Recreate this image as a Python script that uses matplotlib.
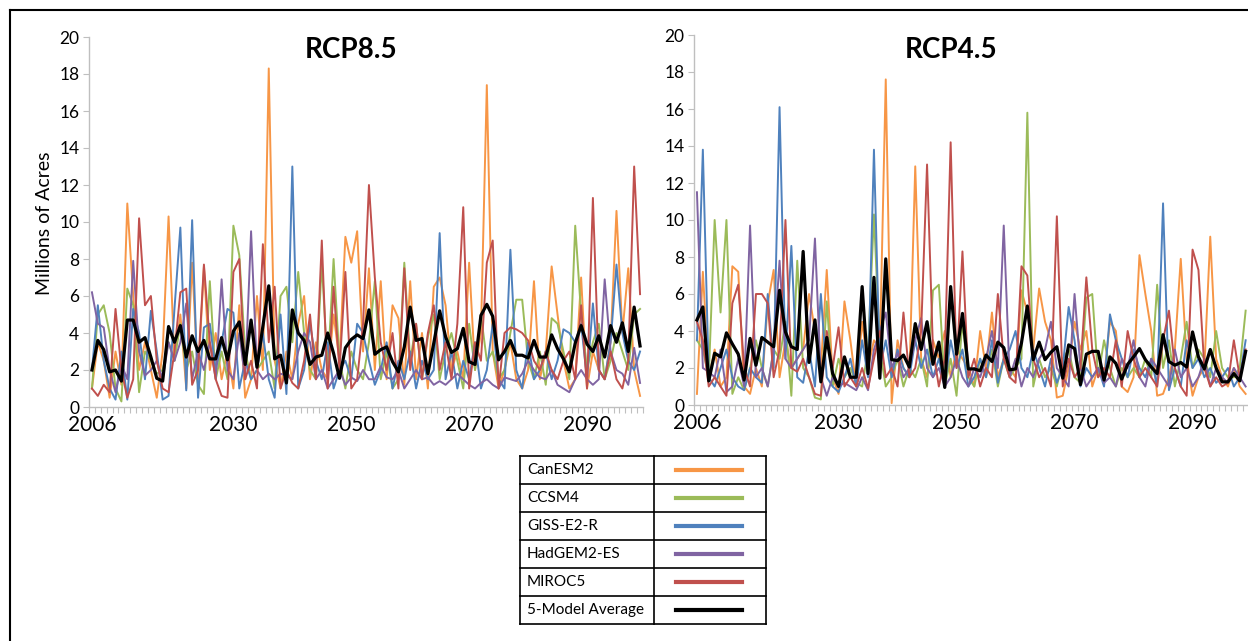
import matplotlib
matplotlib.use("Agg")
import matplotlib.pyplot as plt
from matplotlib.lines import Line2D
import numpy as np

plt.rcParams['font.family'] = ['Lato', 'DejaVu Sans']

years = list(range(2006, 2100))
models = ["CanESM2", "CCSM4", "GISS-E2-R", "HadGEM2-ES", "MIROC5"]
colors = ["#F79646", "#9BBB59", "#4F81BD", "#8064A2", "#C0504D"]
xtick_labels = [2006, 2030, 2050, 2070, 2090]
ytick_values = [0, 2, 4, 6, 8, 10, 12, 14, 16, 18, 20]

# ---------------- RCP8.5 ----------------
rcp85_canesm2 = [1.0, 3.5, 2.5, 0.5, 3.0, 1.2, 11.0, 6.0, 2.0, 3.5, 2.0, 0.5, 3.0, 10.3, 2.5, 5.0, 1.0, 7.8, 1.5, 7.6,
                 2.0, 4.0, 1.5, 3.0, 1.0, 5.5, 0.5, 1.5, 6.0, 2.0, 18.3, 2.5, 1.0, 3.0, 1.5, 4.5, 6.0, 1.5, 3.5, 2.0,
                 1.5, 5.0, 2.5, 9.2, 7.8, 9.5, 3.0, 7.5, 2.0, 6.8, 1.5, 5.5, 4.8, 1.2, 6.8, 1.5, 4.0, 1.0, 6.5, 7.0,
                 5.5, 2.0, 3.0, 1.5, 7.8, 2.0, 4.0, 17.4, 3.0, 1.0, 2.0, 3.5, 1.5, 1.0, 2.0, 6.8, 1.5, 3.0, 7.6, 5.0,
                 2.5, 1.0, 1.5, 7.0, 1.0, 3.0, 2.0, 1.5, 3.5, 10.6, 4.0, 7.5, 2.0, 0.6]
rcp85_ccsm4 = [1.0, 5.0, 5.5, 4.0, 1.0, 0.3, 6.4, 5.5, 0.8, 3.0, 2.5, 1.8, 2.0, 3.5, 2.5, 4.5, 2.0, 3.0, 1.2, 0.7,
               6.8, 1.5, 3.0, 1.5, 9.8, 8.2, 3.0, 1.5, 2.0, 2.5, 3.0, 1.0, 6.0, 6.5, 3.5, 7.3, 4.0, 2.0, 1.5, 7.8,
               2.0, 8.0, 2.5, 1.0, 3.0, 2.0, 1.5, 3.5, 6.8, 1.5, 3.0, 1.0, 1.5, 7.8, 2.5, 4.5, 1.5, 3.8, 5.0, 1.5,
               3.0, 4.0, 2.5, 1.0, 4.5, 2.0, 5.0, 2.5, 3.0, 1.5, 2.0, 4.0, 5.8, 5.8, 2.5, 1.5, 3.0, 1.2, 4.8, 4.5,
               3.0, 1.5, 9.8, 5.0, 2.0, 3.5, 4.5, 1.5, 2.5, 4.0, 3.0, 2.0, 5.0, 5.3]
rcp85_giss = [2.0, 5.5, 2.5, 1.0, 0.4, 3.0, 0.4, 5.3, 4.0, 1.5, 5.2, 3.0, 0.4, 0.6, 5.3, 9.7, 0.9, 10.1, 0.5, 4.3,
              4.5, 2.0, 3.5, 5.3, 5.1, 1.0, 2.5, 1.5, 2.0, 4.0, 1.5, 0.5, 5.0, 0.7, 13.0, 1.0, 2.0, 4.5, 2.5, 1.5,
              3.5, 1.0, 2.0, 2.5, 1.5, 4.5, 4.0, 2.5, 1.2, 2.0, 3.5, 1.0, 2.5, 1.5, 3.0, 1.0, 2.5, 1.5, 2.0, 9.4,
              1.5, 3.0, 1.0, 2.5, 1.5, 3.5, 1.0, 2.0, 4.5, 1.5, 1.0, 8.5, 2.0, 1.0, 3.5, 1.5, 2.0, 3.0, 1.5, 2.5,
              4.2, 4.0, 3.5, 4.5, 1.5, 5.6, 2.0, 1.5, 3.5, 7.7, 4.0, 2.5, 2.0, 3.0]
rcp85_hadgem2 = [6.2, 4.5, 4.3, 2.0, 0.8, 2.3, 1.5, 7.9, 3.0, 1.7, 2.0, 2.5, 1.5, 3.5, 2.5, 3.5, 5.6, 1.5, 3.0, 2.0,
                 3.5, 1.5, 6.9, 2.0, 1.5, 4.0, 1.5, 9.5, 2.0, 1.5, 1.8, 1.5, 1.8, 1.7, 1.5, 3.0, 4.0, 3.5, 1.5, 2.0,
                 1.0, 1.5, 2.0, 1.2, 1.6, 1.4, 2.0, 1.5, 1.5, 2.2, 1.6, 1.5, 2.0, 1.0, 1.5, 2.0, 1.5, 1.6, 1.2, 1.4,
                 1.2, 1.5, 1.8, 1.5, 1.2, 1.0, 1.3, 1.5, 1.2, 1.0, 1.6, 1.5, 1.4, 1.8, 2.5, 2.0, 1.6, 1.5, 2.0, 1.2,
                 1.0, 0.8, 1.5, 2.0, 1.5, 1.2, 1.5, 6.9, 3.0, 2.0, 1.8, 1.2, 3.2, 1.3]
rcp85_miroc5 = [1.0, 0.6, 1.2, 0.8, 5.3, 2.0, 0.5, 1.5, 10.2, 5.5, 6.0, 2.5, 1.0, 0.8, 3.0, 6.2, 6.4, 1.2, 2.0, 7.7,
                3.5, 1.5, 0.6, 0.5, 7.3, 8.0, 1.5, 2.5, 1.0, 8.8, 3.5, 6.5, 1.0, 2.0, 1.3, 1.0, 2.5, 5.0, 1.5, 9.0,
                1.0, 6.5, 2.0, 7.3, 1.0, 1.5, 4.5, 12.0, 7.0, 3.5, 2.0, 4.0, 1.0, 7.5, 2.0, 4.5, 1.5, 4.0, 5.5, 2.0,
                3.5, 1.5, 4.5, 10.8, 1.0, 3.5, 2.5, 7.8, 9.0, 1.0, 4.0, 4.3, 4.2, 4.0, 3.6, 2.5, 2.0, 3.0, 2.0, 1.5,
                2.5, 3.0, 1.5, 5.5, 1.0, 11.3, 2.0, 1.5, 3.0, 1.5, 1.0, 2.5, 13.0, 6.1]
rcp85_average = [2.0, 3.6, 3.1, 1.9, 2.0, 1.4, 4.7, 4.7, 3.5, 3.75, 2.7, 1.55, 1.4, 4.35, 3.5, 4.4, 2.7, 3.85, 3.0, 3.6,
                 2.6, 2.6, 3.75, 2.55, 4.1, 4.6, 2.3, 4.7, 2.15, 4.35, 6.55, 2.6, 2.8, 1.3, 5.25, 4.0, 3.6, 2.3, 2.7, 2.8,
                 4.0, 2.9, 1.55, 3.2, 3.65, 3.9, 3.7, 5.25, 2.85, 3.1, 3.25, 2.45, 1.9, 3.25, 5.4, 3.6, 3.7, 1.8, 3.45, 5.2,
                 3.8, 2.95, 3.15, 4.25, 2.45, 2.3, 4.95, 5.55, 4.9, 2.55, 3.0, 3.6, 2.8, 2.8, 2.65, 3.6, 2.7, 2.7, 3.9, 3.15,
                 2.6, 1.9, 3.45, 4.4, 3.4, 3.0, 3.85, 2.7, 4.4, 3.5, 4.55, 3.0, 5.4, 3.3]

# ---------------- RCP4.5 ----------------
rcp45_canesm2 = [0.6, 7.2, 1.5, 3.0, 1.0, 1.5, 7.5, 7.2, 1.0, 0.6, 2.0, 1.0, 5.5, 7.3, 1.5, 3.5, 2.0, 2.5, 3.0, 6.0,
                 4.0, 2.0, 7.3, 1.5, 0.6, 5.6, 3.5, 1.0, 4.5, 2.0, 3.5, 3.0, 17.6, 0.1, 3.5, 2.0, 1.5, 12.9, 2.5, 1.5,
                 3.5, 2.5, 4.0, 1.5, 3.0, 2.5, 2.0, 1.0, 4.0, 2.0, 5.0, 1.5, 2.5, 2.0, 1.5, 6.2, 5.0, 3.0, 6.3, 4.5,
                 3.5, 0.4, 0.5, 2.0, 4.5, 3.0, 4.0, 1.0, 2.0, 1.5, 4.5, 4.0, 1.0, 0.7, 1.5, 8.1, 6.0, 4.0, 0.5, 0.6,
                 1.5, 3.0, 7.9, 2.5, 0.5, 1.5, 2.0, 9.1, 2.5, 1.5, 1.0, 2.0, 1.0, 0.6]
rcp45_ccsm4 = [3.5, 3.0, 1.5, 10.0, 5.0, 10.0, 0.6, 1.5, 0.8, 2.0, 3.5, 2.0, 1.0, 3.0, 2.5, 4.5, 0.5, 7.8, 2.0, 1.5,
               0.4, 0.3, 5.6, 1.0, 2.5, 1.5, 2.0, 1.2, 1.0, 3.0, 10.3, 3.0, 1.0, 1.5, 2.5, 1.0, 2.0, 1.5, 2.5, 1.0,
               6.2, 6.5, 1.0, 2.5, 0.5, 4.5, 1.5, 1.0, 2.5, 1.5, 3.0, 1.0, 2.5, 1.5, 2.0, 2.5, 15.8, 1.0, 2.5, 1.5,
               2.0, 1.0, 2.5, 3.0, 1.5, 1.2, 5.8, 6.0, 1.5, 3.5, 2.0, 1.0, 2.0, 1.5, 2.0, 1.5, 2.5, 1.5, 6.5, 2.0,
               3.5, 1.0, 2.5, 4.5, 2.0, 3.0, 2.5, 1.5, 4.0, 2.0, 1.5, 1.5, 2.0, 5.1]
rcp45_giss = [3.5, 13.8, 1.5, 1.0, 2.0, 3.0, 1.5, 1.0, 0.8, 2.0, 1.5, 1.2, 6.0, 2.0, 16.1, 2.5, 8.6, 1.5, 1.2, 3.0,
              1.0, 6.0, 1.5, 1.0, 0.7, 1.5, 2.5, 1.0, 3.5, 1.5, 13.8, 2.0, 3.5, 1.5, 3.0, 2.0, 1.5, 3.5, 2.0, 3.0,
              1.5, 2.5, 1.0, 3.5, 2.0, 3.0, 1.0, 1.5, 2.5, 1.5, 3.5, 1.2, 2.5, 3.0, 4.0, 2.0, 1.5, 3.0, 2.0, 1.0,
              2.5, 1.2, 2.0, 5.3, 3.5, 1.0, 2.0, 1.5, 2.0, 1.0, 4.9, 3.5, 2.5, 1.5, 3.0, 2.0, 1.5, 2.5, 1.0, 10.9,
              0.8, 2.0, 1.0, 3.5, 2.0, 2.5, 1.5, 2.0, 1.2, 1.5, 2.0, 1.0, 1.5, 3.5]
rcp45_hadgem2 = [11.5, 2.0, 1.8, 1.5, 3.0, 0.7, 1.0, 2.5, 1.0, 9.7, 1.5, 2.0, 1.0, 3.0, 7.8, 2.5, 2.0, 2.5, 3.0, 3.5,
                 9.0, 1.5, 0.5, 1.5, 1.0, 1.2, 1.0, 0.8, 1.5, 0.8, 3.0, 4.0, 5.0, 2.0, 2.8, 1.5, 2.0, 3.5, 4.7, 2.0,
                 1.5, 2.0, 1.0, 1.5, 2.5, 1.5, 1.0, 2.0, 1.5, 2.5, 4.0, 2.0, 9.7, 1.5, 2.5, 1.0, 2.0, 1.5, 2.5, 3.0,
                 4.5, 2.0, 1.5, 1.0, 6.0, 2.0, 1.0, 1.5, 2.0, 1.2, 1.5, 1.0, 2.5, 2.0, 3.5, 1.5, 1.0, 2.5, 2.0, 1.5,
                 1.0, 3.0, 1.5, 2.0, 1.0, 1.5, 2.5, 1.0, 2.0, 1.5, 1.2, 2.0, 1.5, 1.0]
rcp45_miroc5 = [4.5, 3.5, 1.0, 1.5, 1.0, 0.5, 5.5, 6.5, 2.0, 1.0, 6.0, 6.0, 5.5, 1.5, 3.0, 10.0, 2.0, 1.8, 2.5, 1.5,
                0.6, 0.5, 4.0, 2.0, 4.2, 1.0, 1.5, 1.0, 2.0, 0.9, 2.5, 4.0, 1.5, 2.0, 1.0, 5.0, 1.5, 2.0, 4.0, 13.0,
                3.0, 1.0, 2.5, 14.2, 2.0, 8.3, 1.5, 2.5, 1.0, 2.0, 1.5, 6.0, 2.5, 1.5, 1.2, 7.5, 7.0, 2.5, 1.5, 2.0,
                1.0, 10.2, 1.0, 2.5, 1.5, 2.0, 6.9, 3.0, 1.5, 2.0, 1.5, 3.5, 1.0, 4.0, 2.5, 1.5, 2.0, 1.5, 1.0, 3.5,
                5.1, 2.0, 1.0, 0.5, 8.4, 7.3, 2.0, 1.0, 1.5, 1.0, 1.2, 3.5, 1.5, 3.0]
rcp45_average = [4.6, 5.3, 1.3, 2.8, 2.6, 3.9, 3.3, 2.75, 1.35, 3.6, 2.15, 3.65, 3.4, 3.15, 6.2, 3.95, 3.15, 3.0, 8.3, 2.3,
                 4.6, 1.25, 3.65, 1.7, 1.0, 2.6, 1.5, 1.5, 6.4, 1.7, 6.9, 1.45, 7.9, 2.45, 2.4, 2.7, 2.05, 4.4, 3.0, 4.5,
                 2.2, 3.4, 0.95, 6.4, 2.75, 4.95, 1.95, 1.95, 1.85, 2.7, 2.35, 3.4, 3.1, 1.9, 1.95, 3.35, 5.35, 2.45, 3.4, 2.45,
                 2.85, 3.15, 1.45, 3.25, 3.05, 1.1, 2.75, 2.9, 2.9, 1.35, 2.6, 2.25, 1.4, 2.2, 2.6, 3.05, 2.45, 2.05, 1.7, 3.8,
                 2.35, 2.15, 2.3, 2.05, 3.95, 2.6, 1.95, 3.0, 2.0, 1.25, 1.25, 1.7, 1.3, 2.9]

panels = [
    ("RCP8.5", [rcp85_canesm2, rcp85_ccsm4, rcp85_giss, rcp85_hadgem2, rcp85_miroc5], rcp85_average),
    ("RCP4.5", [rcp45_canesm2, rcp45_ccsm4, rcp45_giss, rcp45_hadgem2, rcp45_miroc5], rcp45_average),
]

W, H = 1248, 641
fig = plt.figure(figsize=(W / 100, H / 100), dpi=100)

def px_axes(x0, x1, ytop, ybot):
    return fig.add_axes([x0 / W, 1 - ybot / H, (x1 - x0) / W, (ybot - ytop) / H])

ax_specs = [(89, 643, 37, 407), (694, 1248.6, 35, 405)]
title_pos = [(351, 50), (951, 50)]
axis_gray = "#BFBFBF"

for (title, series, avg), spec, tpos in zip(panels, ax_specs, title_pos):
    ax = px_axes(*spec)
    for vals, c in zip(series, colors):
        ax.plot(years, vals, color=c, lw=1.4, zorder=2)
    ax.plot(years, avg, color="black", lw=2.3, zorder=3)
    ax.set_xlim(2005.5, 2099.5)
    ax.set_ylim(0, 20)
    ax.set_yticks(ytick_values)
    ax.set_yticklabels([str(v) for v in ytick_values], fontsize=12.5, va='bottom')
    ax.set_xticks(xtick_labels)
    ax.set_xticklabels([str(v) for v in xtick_labels], fontsize=15)
    ax.set_xticks(np.arange(2005.5, 2100, 1.0), minor=True)
    ax.tick_params(axis='x', which='major', length=0, pad=6)
    ax.tick_params(axis='x', which='minor', length=4, color=axis_gray, width=0.8)
    ax.tick_params(axis='y', length=4, color=axis_gray, width=0.8, pad=3)
    for lbl in ax.get_yticklabels():
        lbl.set_verticalalignment('center_baseline')
    for s in ["top", "right"]:
        ax.spines[s].set_visible(False)
    for s in ["left", "bottom"]:
        ax.spines[s].set_color(axis_gray)
        ax.spines[s].set_linewidth(1.0)
    ax.patch.set_alpha(0)
    fig.text(tpos[0] / W, 1 - tpos[1] / H, title, fontsize=20, fontweight='bold',
             ha='center', va='center')

fig.text(45 / W, 1 - 223 / H, "Millions of Acres", rotation=90, fontsize=14,
         ha='center', va='center')

# outer frame (left and top edges)
fig.add_artist(Line2D([10 / W, 10 / W], [0, 1 - 10 / H], color='black', lw=1.5,
                      transform=fig.transFigure))
fig.add_artist(Line2D([10 / W, 1], [1 - 10 / H, 1 - 10 / H], color='black', lw=1.5,
                      transform=fig.transFigure))

# legend table
leg_labels = models + ["5-Model Average"]
leg_colors = colors + ["black"]
tx0, tx1, tdiv = 520, 766, 654
row_edges = [456, 484, 512, 540, 568, 596, 624]

def fx(x):
    return x / W

def fy(y):
    return 1 - y / H

for y in row_edges:
    fig.add_artist(Line2D([fx(tx0), fx(tx1)], [fy(y), fy(y)], color='black', lw=1.2,
                          transform=fig.transFigure))
for x in [tx0, tdiv, tx1]:
    fig.add_artist(Line2D([fx(x), fx(x)], [fy(row_edges[0]), fy(row_edges[-1])], color='black',
                          lw=1.2, transform=fig.transFigure))
for i, (lab, c) in enumerate(zip(leg_labels, leg_colors)):
    yc = (row_edges[i] + row_edges[i + 1]) / 2
    fig.text(fx(527), fy(yc), lab, fontsize=11, ha='left', va='center')
    fig.add_artist(Line2D([fx(676), fx(742)], [fy(yc), fy(yc)], color=c, lw=3,
                          transform=fig.transFigure))

fig.savefig("out.png", dpi=100)
